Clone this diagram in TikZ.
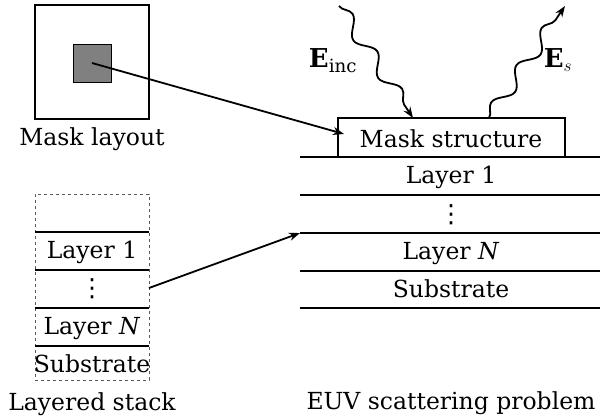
\documentclass[tikz,border=0pt]{standalone}
\usepackage{fontspec}
\setmainfont{DejaVu Serif}
\newfontfamily\symfont{DejaVu Sans}
\usetikzlibrary{arrows.meta,decorations.pathmorphing}
\begin{document}
\begin{tikzpicture}[x=1pt,y=-1pt,
  font=\fontsize{23.5}{28}\selectfont,
  line width=1.8pt,
  txt/.style={inner sep=0pt, anchor=base},
  mathlbl/.style={inner sep=0pt, anchor=base, font=\fontsize{26}{30}\selectfont},
  dotsnode/.style={inner sep=0pt, anchor=center, font=\fontsize{25}{30}\symfont},
  layerline/.style={line width=1.9pt},
  conn/.style={line width=1.8pt,-{Stealth[length=11pt,width=8pt]}},
  wave/.style={line width=1.8pt,-{Stealth[length=11pt,width=8pt]},decorate,decoration={snake,amplitude=7pt,segment length=45pt,post length=8pt}}]
\useasboundingbox (0,0) rectangle (600,417);
% mask layout
\node[draw, line width=2pt, minimum width=114pt, minimum height=114pt, inner sep=0pt] (layout) at (92,62) {};
\node[draw, line width=0.8pt, fill=black!50, minimum width=38pt, minimum height=38pt, inner sep=0pt] (pattern) at (92,63) {};
\node[txt] (layoutlbl) at (92,146) {Mask layout};
% layered stack
\node[draw, dashed, line width=0.9pt, gray!70!black, minimum width=114pt, minimum height=186pt, inner sep=0pt] (stack) at (92,287) {};
\foreach \yy in {232,270,308,346}{\draw[layerline] (35,\yy) -- (149,\yy);}
\node[txt] (s1) at (92,258) {Layer 1};
\node[dotsnode] (sd) at (92,289) {⋮};
\node[txt] (sn) at (92,334) {Layer \textit{N}};
\node[txt] (ss) at (92,372) {Substrate};
\node[txt] (stacklbl) at (92,410) {Layered stack};
% EUV problem
\foreach \yy in {157,195,233,271,308}{\draw[layerline] (300,\yy) -- (600,\yy);}
\node[draw, fill=white, line width=1.8pt, minimum width=227pt, minimum height=39pt, inner sep=0pt] (mask) at (451.5,137.5) {};
\node[txt] (masklbl) at (451,148) {Mask structure};
\node[txt] (r1) at (451,183) {Layer 1};
\node[dotsnode] (rd) at (451,215) {⋮};
\node[txt] (rn) at (451,259) {Layer \textit{N}};
\node[txt] (rs) at (451,297) {Substrate};
\node[txt] (euvlbl) at (451,409) {EUV scattering problem};
% waves
\coordinate (incstart) at (339,6);
\coordinate (incend) at (413,118);
\coordinate (scstart) at (489,118);
\coordinate (scend) at (565,6);
\draw[wave] (incstart) -- (incend);
\draw[wave] (scstart) -- (scend);
\node[mathlbl] (einc) at (333,68) {$\mathbf{E}_{\mathrm{inc}}$};
\node[mathlbl] (es) at (558,68) {$\mathbf{E}_{s}$};
% connectors
\coordinate (maskin) at (344,134);
\coordinate (stackin) at (300,233);
\coordinate (stackout) at (149,288);
\draw[conn] (pattern.center) -- (maskin);
\draw[conn] (stackout) -- (stackin);
\end{tikzpicture}
\end{document}
